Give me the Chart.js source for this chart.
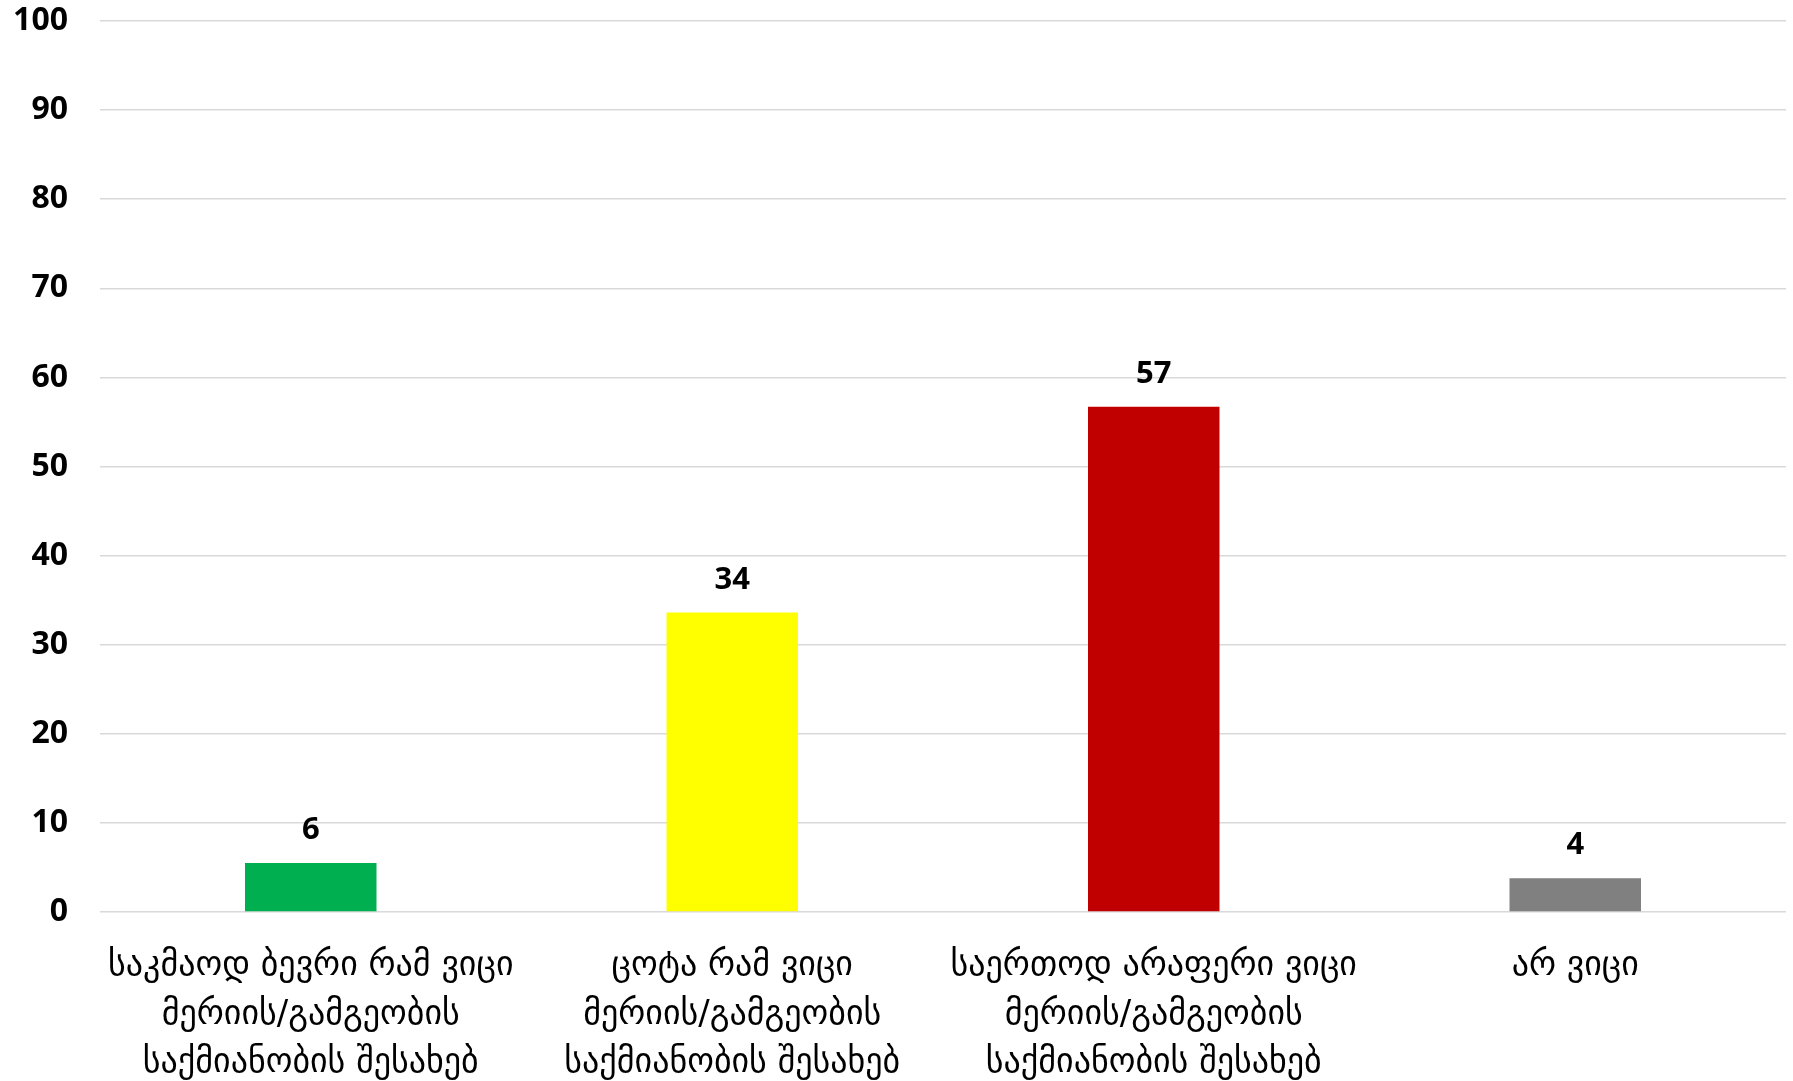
<!DOCTYPE html>
<html>
<head>
<meta charset="utf-8">
<script src="https://cdn.jsdelivr.net/npm/chart.js@4/dist/chart.umd.min.js"></script>
<style>
  html, body { margin: 0; padding: 0; background: #ffffff; }
  #wrap { width: 1793px; height: 1081px; }
</style>
</head>
<body>
<div id="wrap"><canvas id="chart" width="1793" height="1081"></canvas></div>
<script>
const categories = [
    ['საკმაოდ ბევრი რამ ვიცი', 'მერიის/გამგეობის', 'საქმიანობის შესახებ'],
    ['ცოტა რამ ვიცი', 'მერიის/გამგეობის', 'საქმიანობის შესახებ'],
    ['საერთოდ არაფერი ვიცი', 'მერიის/გამგეობის', 'საქმიანობის შესახებ'],
    ['არ ვიცი']
];
const values = [5.5, 33.6, 56.7, 3.8];
const barColors = ['#00b050', '#ffff00', '#c00000', '#808080'];
const yTicks = [0, 10, 20, 30, 40, 50, 60, 70, 80, 90, 100];

const numFont = '"Noto Sans", "Open Sans", sans-serif';

// draws the rounded value above each bar
const valueLabels = {
    id: 'valueLabels',
    afterDatasetsDraw(chart) {
        const ctx = chart.ctx;
        const meta = chart.getDatasetMeta(0);
        ctx.save();
        ctx.font = 'bold 31px ' + numFont;
        ctx.fillStyle = '#000000';
        ctx.textAlign = 'center';
        ctx.textBaseline = 'bottom';
        meta.data.forEach((bar, i) => {
            ctx.fillText(String(Math.round(values[i])), bar.x, bar.y - 17);
        });
        ctx.restore();
    }
};

new Chart(document.getElementById('chart').getContext('2d'), {
    type: 'bar',
    data: {
        labels: categories,
        datasets: [{
            data: values,
            backgroundColor: barColors,
            borderWidth: 0,
            categoryPercentage: 1,
            barPercentage: 0.312
        }]
    },
    options: {
        responsive: false,
        animation: false,
        layout: { padding: { top: 21, right: 7, left: 0, bottom: 0 } },
        plugins: {
            legend: { display: false },
            tooltip: { enabled: false },
            title: { display: false }
        },
        scales: {
            x: {
                grid: { display: false },
                border: { display: false },
                ticks: {
                    color: '#000000',
                    maxRotation: 0,
                    minRotation: 0,
                    autoSkip: false,
                    padding: 22,
                    font: { family: '"DejaVu Sans", sans-serif', size: 34, lineHeight: 1.43 }
                },
                afterFit(scale) {
                    scale.height = 169;
                    scale.paddingLeft = 0;
                    scale.paddingRight = 0;
                }
            },
            y: {
                min: 0,
                max: 100,
                afterBuildTicks(scale) { scale.ticks = yTicks.map(v => ({ value: v })); },
                grid: { color: '#d9d9d9', lineWidth: 1.5, drawTicks: false },
                border: { display: false },
                ticks: {
                    color: '#000000',
                    padding: 32,
                    font: { family: numFont, size: 32, weight: 'bold' }
                },
                afterFit(scale) {
                    scale.width = 100;
                    scale.paddingTop = 0;
                    scale.paddingBottom = 0;
                }
            }
        }
    },
    plugins: [valueLabels]
});
</script>
</body>
</html>
